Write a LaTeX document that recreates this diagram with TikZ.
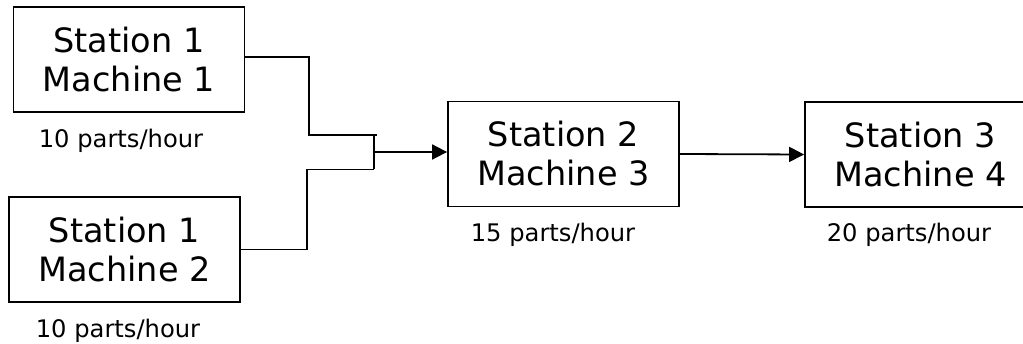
\documentclass[tikz,border=0pt]{standalone}
\usepackage{fontspec}
\setmainfont{DejaVu Sans}
\usetikzlibrary{arrows.meta}
\tikzset{
  machine/.style={draw=black, line width=1.8pt, minimum width=231pt, minimum height=105pt, inner sep=0pt,
    align=center, font=\fontsize{33.5}{39}\selectfont},
  rate/.style={anchor=base, inner sep=0pt, font=\fontsize{24.2}{28}\selectfont},
  conn/.style={draw=black, line width=1.8pt},
  arr/.style={conn, -{Triangle[length=15pt,width=15pt]}}
}
\begin{document}
\begin{tikzpicture}[x=1pt,y=-1pt]
\useasboundingbox (0,0) rectangle (1023,344);
\node[machine] (b1) at (129,59.5) {Station 1\\Machine 1};
\node[machine] (b2) at (124.5,249.5) {Station 1\\Machine 2};
\node[machine] (b3) at (563.5,154) {Station 2\\Machine 3};
\node[machine] (b4) at (920.5,154.5) {Station 3\\Machine 4};
\node[rate] (r1) at (121,148) {10 parts/hour};
\node[rate] (r2) at (118,338) {10 parts/hour};
\node[rate] (r3) at (553,242) {15 parts/hour};
\node[rate] (r4) at (909,242) {20 parts/hour};
\coordinate (jt) at (374,135);
\coordinate (jte) at (377,135);
\coordinate (jb) at (374,169.5);
\coordinate (jm) at (374,152);
\draw[conn] ([yshift=2.5pt]b1.east) -| (309,135) -- (jte);
\draw[conn] (b2.east) -| (307,169.5) -- (jb);
\draw[conn] (jt) -- (jb);
\draw[arr] (jm) -- (jm -| b3.west);
\draw[arr] (b3.east) -- (b4.west);
\end{tikzpicture}
\end{document}
